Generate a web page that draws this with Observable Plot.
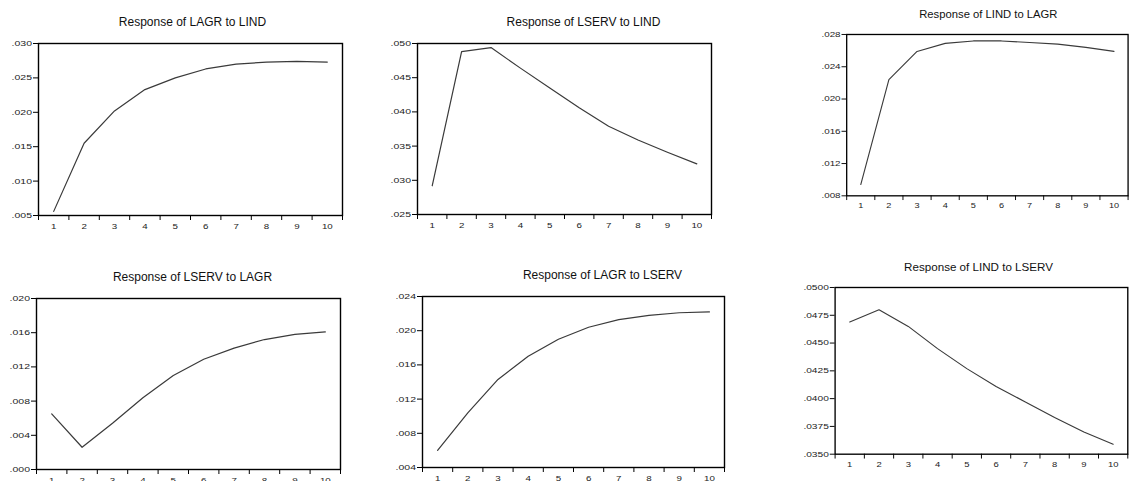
<!DOCTYPE html>
<html>
<head>
<meta charset="utf-8">
<script src="https://cdn.jsdelivr.net/npm/d3@7"></script>
<script src="https://cdn.jsdelivr.net/npm/@observablehq/plot@0.6"></script>
<style>
  html, body { margin: 0; padding: 0; background: #fff; width: 1137px; height: 481px; overflow: hidden; }
  #wrap { position: relative; width: 1137px; height: 481px; }
  .panel { position: absolute; }
</style>
</head>
<body>
<div id="wrap"></div>
<script>
// ---- data ----
const periods = [1, 2, 3, 4, 5, 6, 7, 8, 9, 10];
const titles = [
  "Response of LAGR to LIND",
  "Response of LSERV to LIND",
  "Response of LIND to LAGR",
  "Response of LSERV to LAGR",
  "Response of LAGR to LSERV",
  "Response of LIND to LSERV"
];
const lagrToLind  = [0.0056, 0.0155, 0.0202, 0.0233, 0.0250, 0.0263, 0.0270, 0.0273, 0.0274, 0.0273];
const lservToLind = [0.0292, 0.0488, 0.0494, 0.0464, 0.0435, 0.0406, 0.0379, 0.0359, 0.0341, 0.0324];
const lindToLagr  = [0.0094, 0.0224, 0.0259, 0.0269, 0.0272, 0.0272, 0.0270, 0.0268, 0.0264, 0.0259];
const lservToLagr = [0.0065, 0.0026, 0.0054, 0.0084, 0.0110, 0.0129, 0.0142, 0.0152, 0.0158, 0.0161];
const lagrToLserv = [0.0060, 0.0104, 0.0143, 0.0170, 0.0190, 0.0204, 0.0213, 0.0218, 0.0221, 0.0222];
const lindToLserv = [0.0469, 0.0480, 0.0465, 0.0445, 0.0427, 0.0411, 0.0397, 0.0383, 0.0370, 0.0359];

const ticks1 = [0.005, 0.010, 0.015, 0.020, 0.025, 0.030];
const ticks2 = [0.025, 0.030, 0.035, 0.040, 0.045, 0.050];
const ticks3 = [0.008, 0.012, 0.016, 0.020, 0.024, 0.028];
const ticks4 = [0.000, 0.004, 0.008, 0.012, 0.016, 0.020];
const ticks5 = [0.004, 0.008, 0.012, 0.016, 0.020, 0.024];
const ticks6 = [0.0350, 0.0375, 0.0400, 0.0425, 0.0450, 0.0475, 0.0500];
const decimals = [3, 3, 3, 3, 3, 4];

// ---- layout (frame boxes in page pixels) ----
const panels = [
  {values: lagrToLind,  ticks: ticks1, L: 38,  R: 342,  T: 43,  B: 215, dx: 2},
  {values: lservToLind, ticks: ticks2, L: 417, R: 711,  T: 43,  B: 214, dx: 19},
  {values: lindToLagr,  ticks: ticks3, L: 849, R: 1149, T: 36,  B: 208, dx: 1},
  {values: lservToLagr, ticks: ticks4, L: 36,  R: 340,  T: 298, B: 469, dx: 4},
  {values: lagrToLserv, ticks: ticks5, L: 422, R: 724,  T: 296, B: 467, dx: 29},
  {values: lindToLserv, ticks: ticks6, L: 836, R: 1138, T: 288, B: 460, dx: -3}
];

const boundaries = d3.range(0.5, 11, 1);
const mL = 45, mR = 10, mT = 32, mB = 28;
const wrap = document.getElementById("wrap");

// widen tick labels horizontally (the source graphic is stretched)
function stretch(svg, selector, sx) {
  d3.select(svg).selectAll(selector).each(function () {
    const t = this.getAttribute("transform") || "";
    const xa = this.getAttribute("x");
    let pre = "";
    if (xa != null && isFinite(+xa)) { pre = ` translate(${+xa},0)`; this.removeAttribute("x"); }
    this.setAttribute("transform", `${t}${pre} scale(${sx},1)`);
  });
}

panels.forEach((p, i) => {
  const rows = periods.map((t, k) => ({t, v: p.values[k]}));
  const fmt = d => d3.format("." + decimals[i] + "f")(d).replace(/^0/, "");
  const chart = Plot.plot({
    width: mL + (p.R - p.L) + mR,
    height: mT + (p.B - p.T) + mB,
    marginLeft: mL, marginRight: mR, marginTop: mT, marginBottom: mB,
    style: {fontFamily: "'Liberation Sans', Arial, sans-serif", fontSize: "7.5px", color: "#222", background: "transparent", overflow: "visible"},
    x: {domain: [0.5, 10.5]},
    y: {domain: [p.ticks[0], p.ticks[p.ticks.length - 1]]},
    marks: [
      Plot.axisY(p.ticks, {tickSize: 5, tickPadding: 1.5, tickFormat: fmt, label: null, stroke: "#000"}),
      Plot.axisX(boundaries, {tickSize: 5, tickFormat: () => "", label: null, stroke: "#000"}),
      Plot.axisX(periods, {tickSize: 0, tickPadding: 8, tickFormat: d => String(d), label: null}),
      Plot.frame({stroke: "#000", strokeWidth: 1.4}),
      Plot.line(rows, {x: "t", y: "v", stroke: "#3a3a3a", strokeWidth: 1.2}),
      Plot.text([titles[i]], {frameAnchor: "top", dy: -21, dx: p.dx, lineAnchor: "middle", fontSize: 12, fill: "#111"})
    ]
  });
  stretch(chart, 'g[aria-label="y-axis tick label"] text', 1.4);
  stretch(chart, 'g[aria-label="x-axis tick label"] text', 1.3);
  const div = document.createElement("div");
  div.className = "panel";
  div.style.left = (p.L - mL) + "px";
  div.style.top = (p.T - mT) + "px";
  div.appendChild(chart);
  wrap.appendChild(div);
});
</script>
</body>
</html>
